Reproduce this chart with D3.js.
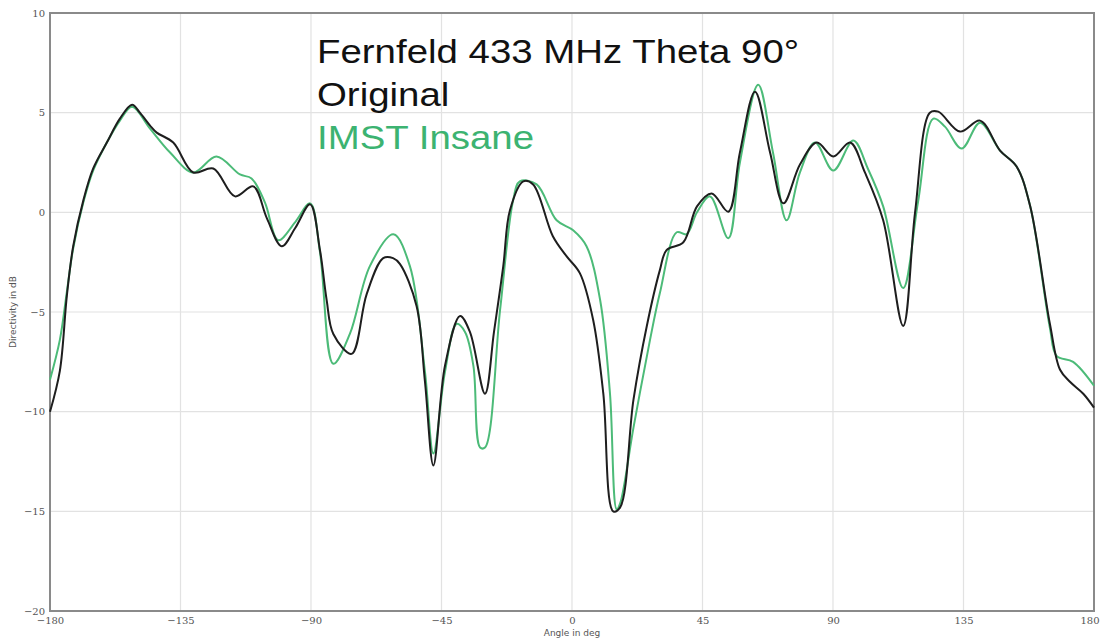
<!DOCTYPE html>
<html>
<head>
<meta charset="utf-8">
<script src="https://cdn.jsdelivr.net/npm/d3@7"></script>
<style>
  body { margin: 0; background: #fff; }
  svg text { font-family: "DejaVu Sans", sans-serif; }
</style>
</head>
<body>
<div id="chart"></div>
<script>
// angle (deg) / directivity (dB)
const origAngle = [-180, -176.6, -174.2, -172, -168.5, -165.1, -160.4, -155.9, -151.7, -149, -145.5, -143.2, -137.5, -130.6, -123.7, -116.2, -109.9, -105.2, -100.1, -95.5, -90.3, -86.9, -84.6, -82.3, -76, -70.8, -65.1, -61.7, -59.3, -53.6, -50.7, -47.8, -43.8, -38.6, -35.2, -30, -26.9, -23.7, -21.4, -16.8, -13.4, -6.6, -1.9, 2.7, 7.3, 10.8, 14.2, 16.6, 21.2, 25.8, 30.3, 32.6, 38.4, 43.1, 48.2, 53.9, 57.9, 63.1, 68.3, 72.9, 78.6, 84.4, 90.1, 95.9, 101, 107.3, 114.2, 118.3, 123.4, 126.3, 133.8, 140.7, 147.6, 153.3, 158, 164.8, 168.3, 171.7, 176.3, 180];
const origDb = [-10, -7.95, -4.2, -1.7, 0.6, 2.2, 3.5, 4.7, 5.4, 5.0, 4.35, 4.0, 3.5, 2.0, 2.2, 0.8, 1.3, -0.3, -1.7, -0.8, 0.4, -1.9, -4.4, -6.1, -7.1, -4.1, -2.3, -2.3, -2.6, -4.7, -8.5, -12.7, -7.7, -5.2, -6.0, -9.1, -6.0, -2.7, 0.1, 1.55, 1.4, -1.2, -2.2, -3.05, -5.4, -9.1, -15.0, -14.8, -9.4, -5.7, -2.9, -1.9, -1.5, 0.3, 0.95, 0.03, 3.0, 6.05, 3.0, 0.45, 2.4, 3.5, 2.8, 3.5, 2.0, -0.4, -5.7, 0.0, 5.0, 5.05, 4.05, 4.6, 3.1, 2.3, 0.3, -5.6, -7.9, -8.5, -9.1, -9.8];

const imstAngle = [-180, -176.6, -174.2, -172, -168.5, -165.1, -160.4, -155.9, -151.7, -145.5, -138.6, -130.6, -122.6, -114.5, -110.5, -105.9, -101.3, -95.5, -90.3, -86.9, -82.3, -76.6, -69.7, -61.6, -55.9, -50.7, -47.8, -43.8, -39.8, -36.9, -34, -31.7, -30, -24.8, -20.3, -18, -12.2, -5.3, 0.4, 5, 9.7, 13.1, 15.4, 16.6, 21.2, 26.9, 30.3, 36.1, 39.5, 43.1, 47.6, 53.9, 57.9, 64.2, 69.3, 74, 78.6, 83.8, 90.1, 97, 102, 107.3, 114.2, 119.3, 124.6, 128.6, 134.4, 140.7, 147.6, 153.3, 158, 164.8, 167.1, 172.8, 180];
const imstDb = [-8.4, -6.4, -4.0, -1.8, 0.5, 2.1, 3.5, 4.6, 5.3, 4.2, 3.0, 2.0, 2.8, 1.9, 1.7, 0.5, -1.4, -0.5, 0.45, -2.0, -7.6, -6.1, -2.7, -1.1, -2.7, -8.0, -12.1, -8.0, -5.6, -6.0, -7.7, -11.8, -11.8, -4.9, 0.6, 1.55, 1.4, -0.4, -0.9, -1.7, -4.4, -9.1, -14.9, -14.6, -10.8, -6.4, -4.05, -1.0, -1.1, 0.0, 0.8, -1.3, 2.5, 6.4, 3.0, -0.4, 2.0, 3.5, 2.1, 3.6, 2.2, 0.3, -3.8, 0.5, 4.7, 4.3, 3.2, 4.5, 3.1, 2.3, 0.3, -5.8, -7.2, -7.5, -8.7];

const xTicks = [-180, -135, -90, -45, 0, 45, 90, 135, 180];
const yTicks = [10, 5, 0, -5, -10, -15, -20];
const titleLines = ["Fernfeld 433 MHz Theta 90°", "Original", "IMST Insane"];

const width = 1100, height = 640;
const margin = { top: 13, right: 6, bottom: 29, left: 50 };
const innerW = width - margin.left - margin.right;
const innerH = height - margin.top - margin.bottom;

const svg = d3.select("#chart").append("svg")
  .attr("width", width).attr("height", height);
const g = svg.append("g").attr("transform", `translate(${margin.left},${margin.top})`);

const x = d3.scaleLinear().domain([-180, 180]).range([0, innerW]);
const y = d3.scaleLinear().domain([-20, 10]).range([innerH, 0]);

// grid
g.append("g").selectAll("line").data(xTicks).join("line")
  .attr("x1", d => x(d)).attr("x2", d => x(d))
  .attr("y1", 0).attr("y2", innerH)
  .attr("stroke", "#e2e2e2").attr("stroke-width", 1.2);
g.append("g").selectAll("line").data(yTicks).join("line")
  .attr("x1", 0).attr("x2", innerW)
  .attr("y1", d => y(d)).attr("y2", d => y(d))
  .attr("stroke", "#e2e2e2").attr("stroke-width", 1.2);

// axes
const fmt = d => d < 0 ? "\u2212" + Math.abs(d) : d;
const xAxis = g.append("g").attr("transform", `translate(0,${innerH})`)
  .call(d3.axisBottom(x).tickValues(xTicks).tickSize(0).tickPadding(6).tickFormat(fmt));
const yAxis = g.append("g")
  .call(d3.axisLeft(y).tickValues(yTicks).tickSize(0).tickPadding(5).tickFormat(fmt));
[xAxis, yAxis].forEach(a => {
  a.select(".domain").remove();
  a.selectAll("text").attr("fill", "#555").style("font-size", "10px").style("font-family", "'DejaVu Serif', serif");
});
// keep the last label inside the window
xAxis.selectAll(".tick").filter(d => d === 180).select("text")
  .attr("text-anchor", "end").attr("dx", 5);

// frame
g.append("rect").attr("width", innerW).attr("height", innerH)
  .attr("fill", "none").attr("stroke", "#8a8a8a").attr("stroke-width", 2);

const line = d3.line().curve(d3.curveCatmullRom.alpha(0.5))
  .x(d => x(d[0])).y(d => y(d[1]));

g.append("path").datum(d3.zip(imstAngle, imstDb))
  .attr("d", line).attr("fill", "none")
  .attr("stroke", "#4cbb78").attr("stroke-width", 2);
g.append("path").datum(d3.zip(origAngle, origDb))
  .attr("d", line).attr("fill", "none")
  .attr("stroke", "#1e1e1e").attr("stroke-width", 2);

// title block (the original lettering is a bit wider than Arial)
const title = svg.append("g").attr("transform", "translate(317,0) scale(1.13,1)");
title.selectAll("text").data(titleLines).join("text")
  .attr("x", 0).attr("y", (d, i) => 63 + i * 43)
  .attr("fill", (d, i) => i === 2 ? "#3cb371" : "#111")
  .style("font-family", "'Liberation Sans', Arial, sans-serif")
  .style("font-size", "34px")
  .text(d => d);

// axis labels
svg.append("text").attr("x", margin.left + innerW / 2).attr("y", 636)
  .attr("text-anchor", "middle").attr("fill", "#555").style("font-size", "9px")
  .text("Angle in deg");
svg.append("text").attr("transform", `translate(16,${margin.top + innerH / 2}) rotate(-90)`)
  .attr("text-anchor", "middle").attr("fill", "#555").style("font-size", "9px")
  .text("Directivity in dB");
</script>
</body>
</html>
